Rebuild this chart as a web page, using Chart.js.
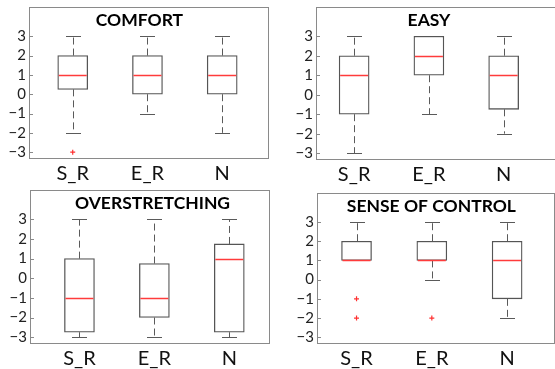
<!DOCTYPE html>
<html>
<head>
<meta charset="utf-8">
<script src="https://cdn.jsdelivr.net/npm/chart.js@4.4.1/dist/chart.umd.min.js"></script>
<style>
  html, body { margin: 0; padding: 0; background: #fff; overflow: hidden; width: 555px; height: 369px; }
  canvas { position: absolute; }
</style>
</head>
<body>
<canvas id="c0"></canvas>
<canvas id="c1"></canvas>
<canvas id="c2"></canvas>
<canvas id="c3"></canvas>
<script>
const categories = ['S_R', 'E_R', 'N'];
const yTicks = [-3, -2, -1, 0, 1, 2, 3];
const titles = ['COMFORT', 'EASY', 'OVERSTRETCHING', 'SENSE OF CONTROL'];

// per category: [lower whisker, q1, median, q3, upper whisker]
const comfortStats = [[-2, 0.25, 1, 2, 3], [-1, 0, 1, 2, 3], [-2, 0, 1, 2, 3]];
const easyStats = [[-3, -1, 1, 2, 3], [-1, 1, 2, 3, 3], [-2, -0.75, 1, 2, 3]];
const overStats = [[-3, -2.75, -1, 1, 3], [-3, -2, -1, 0.75, 3], [-3, -2.75, 1, 1.75, 3]];
const controlStats = [[1, 1, 1, 2, 3], [0, 1, 1, 2, 3], [-2, -1, 1, 2, 3]];

const comfortOutliers = [[-3], [], []];
const easyOutliers = [[], [], []];
const overOutliers = [[], [], []];
const controlOutliers = [[-1, -2], [-2], []];

// layout of each panel: frame box in page pixels, x range, title offset
const panels = [
  { id: 'c0', frame: [29, 5, 270, 158], xRange: [0.415, 3.61], titleDx: -9, stats: comfortStats, outliers: comfortOutliers, title: titles[0] },
  { id: 'c1', frame: [316, 7, 556, 159], xRange: [0.49, 3.70], titleDx: -7, stats: easyStats, outliers: easyOutliers, title: titles[1] },
  { id: 'c2', frame: [30, 190, 269, 343], xRange: [0.34, 3.53], titleDx: 3, stats: overStats, outliers: overOutliers, title: titles[2] },
  { id: 'c3', frame: [317, 191, 556, 343], xRange: [0.475, 3.62], titleDx: -4, stats: controlStats, outliers: controlOutliers, title: titles[3] }
];

const AXIS_W = 30, AXIS_H = 30, PAD = 3;

const boxExtras = {
  id: 'boxExtras',
  beforeDatasetsDraw(chart, args, opts) {
    const { ctx, scales: { x, y } } = chart;
    ctx.save();
    ctx.strokeStyle = '#5a5a5a';
    ctx.lineWidth = 1;
    opts.stats.forEach((s, i) => {
      const cx = Math.round(x.getPixelForValue(i + 1)) + 0.5;
      const capW = 7.5;
      // dashed whiskers
      ctx.setLineDash([7, 4]);
      ctx.beginPath();
      ctx.moveTo(cx, y.getPixelForValue(s[3]));
      ctx.lineTo(cx, y.getPixelForValue(s[4]));
      ctx.moveTo(cx, y.getPixelForValue(s[1]));
      ctx.lineTo(cx, y.getPixelForValue(s[0]));
      ctx.stroke();
      // caps
      ctx.setLineDash([]);
      ctx.beginPath();
      [s[0], s[4]].forEach(v => {
        const py = Math.round(y.getPixelForValue(v)) + 0.5;
        ctx.moveTo(cx - capW, py);
        ctx.lineTo(cx + capW, py);
      });
      ctx.stroke();
    });
    ctx.restore();
  },
  afterDatasetsDraw(chart, args, opts) {
    const { ctx, chartArea: a, scales: { x, y } } = chart;
    ctx.save();
    // medians
    ctx.strokeStyle = '#ff3b3b';
    ctx.lineWidth = 1.5;
    opts.stats.forEach((s, i) => {
      const cx = x.getPixelForValue(i + 1);
      const py = Math.round(y.getPixelForValue(s[2])) + 0.5;
      ctx.beginPath();
      ctx.moveTo(cx - 14, py);
      ctx.lineTo(cx + 14, py);
      ctx.stroke();
    });
    // frame
    ctx.strokeStyle = '#8a8a8a';
    ctx.lineWidth = 1;
    ctx.strokeRect(Math.round(a.left) + 0.5, Math.round(a.top) + 0.5, Math.round(a.right - a.left), Math.round(a.bottom - a.top));
    // inward ticks on the left edge
    ctx.beginPath();
    yTicks.forEach(v => {
      const py = Math.round(y.getPixelForValue(v)) + 0.5;
      ctx.moveTo(a.left, py);
      ctx.lineTo(a.left + 4, py);
    });
    ctx.stroke();
    // title inside the frame
    ctx.fillStyle = '#000';
    ctx.font = 'bold 17.5px Lato';
    ctx.textAlign = 'center';
    ctx.textBaseline = 'middle';
    ctx.fillText(opts.title, (a.left + a.right) / 2 + opts.titleDx, a.top + 13);
    ctx.restore();
  }
};

panels.forEach(p => {
  const [L, T, R, B] = p.frame;
  const el = document.getElementById(p.id);
  const w = R - L + AXIS_W + PAD;
  const h = B - T + AXIS_H + PAD;
  el.width = w; el.height = h;
  el.style.width = w + 'px'; el.style.height = h + 'px';
  el.style.left = (L - AXIS_W) + 'px';
  el.style.top = (T - PAD) + 'px';

  const boxData = p.stats.map((s, i) => ({ x: i + 1, y: [s[1], s[3]] }));
  const outlierData = [];
  p.outliers.forEach((list, i) => list.forEach(v => outlierData.push({ x: i + 1, y: v })));

  new Chart(el.getContext('2d'), {
    type: 'bar',
    data: {
      datasets: [
        {
          type: 'bar',
          data: boxData,
          backgroundColor: '#ffffff',
          borderColor: '#555555',
          borderWidth: 1.3,
          borderSkipped: false,
          barThickness: 30
        },
        {
          type: 'scatter',
          data: outlierData,
          pointStyle: 'cross',
          radius: 2.5,
          borderColor: '#ff3030',
          borderWidth: 1.2
        }
      ]
    },
    options: {
      responsive: false,
      animation: false,
      devicePixelRatio: 1,
      layout: { padding: { top: PAD, right: PAD, left: 0, bottom: 0 } },
      plugins: {
        legend: { display: false },
        tooltip: { enabled: false },
        boxExtras: { stats: p.stats, title: p.title, titleDx: p.titleDx }
      },
      scales: {
        x: {
          type: 'linear',
          min: p.xRange[0],
          max: p.xRange[1],
          offset: false,
          grid: { display: false, drawTicks: false },
          border: { display: false },
          afterBuildTicks: s => { s.ticks = categories.map((c, i) => ({ value: i + 1 })); },
          ticks: {
            callback: v => categories[v - 1],
            font: { family: 'Lato', size: 20 },
            color: '#111',
            padding: 4,
            maxRotation: 0,
            autoSkip: false
          },
          afterFit: s => { s.height = AXIS_H; s.paddingLeft = 0; s.paddingRight = 0; }
        },
        y: {
          min: -3.3,
          max: 4.5,
          grid: { display: false, drawTicks: false },
          border: { display: false },
          afterBuildTicks: s => { s.ticks = yTicks.map(v => ({ value: v })); },
          ticks: {
            callback: v => (v < 0 ? '\u2212' + Math.abs(v) : String(v)),
            font: { family: 'Lato', size: 15 },
            color: '#222',
            padding: 3
          },
          afterFit: s => { s.width = AXIS_W; s.paddingTop = 0; s.paddingBottom = 0; }
        }
      }
    },
    plugins: [boxExtras]
  });
});
</script>
</body>
</html>
